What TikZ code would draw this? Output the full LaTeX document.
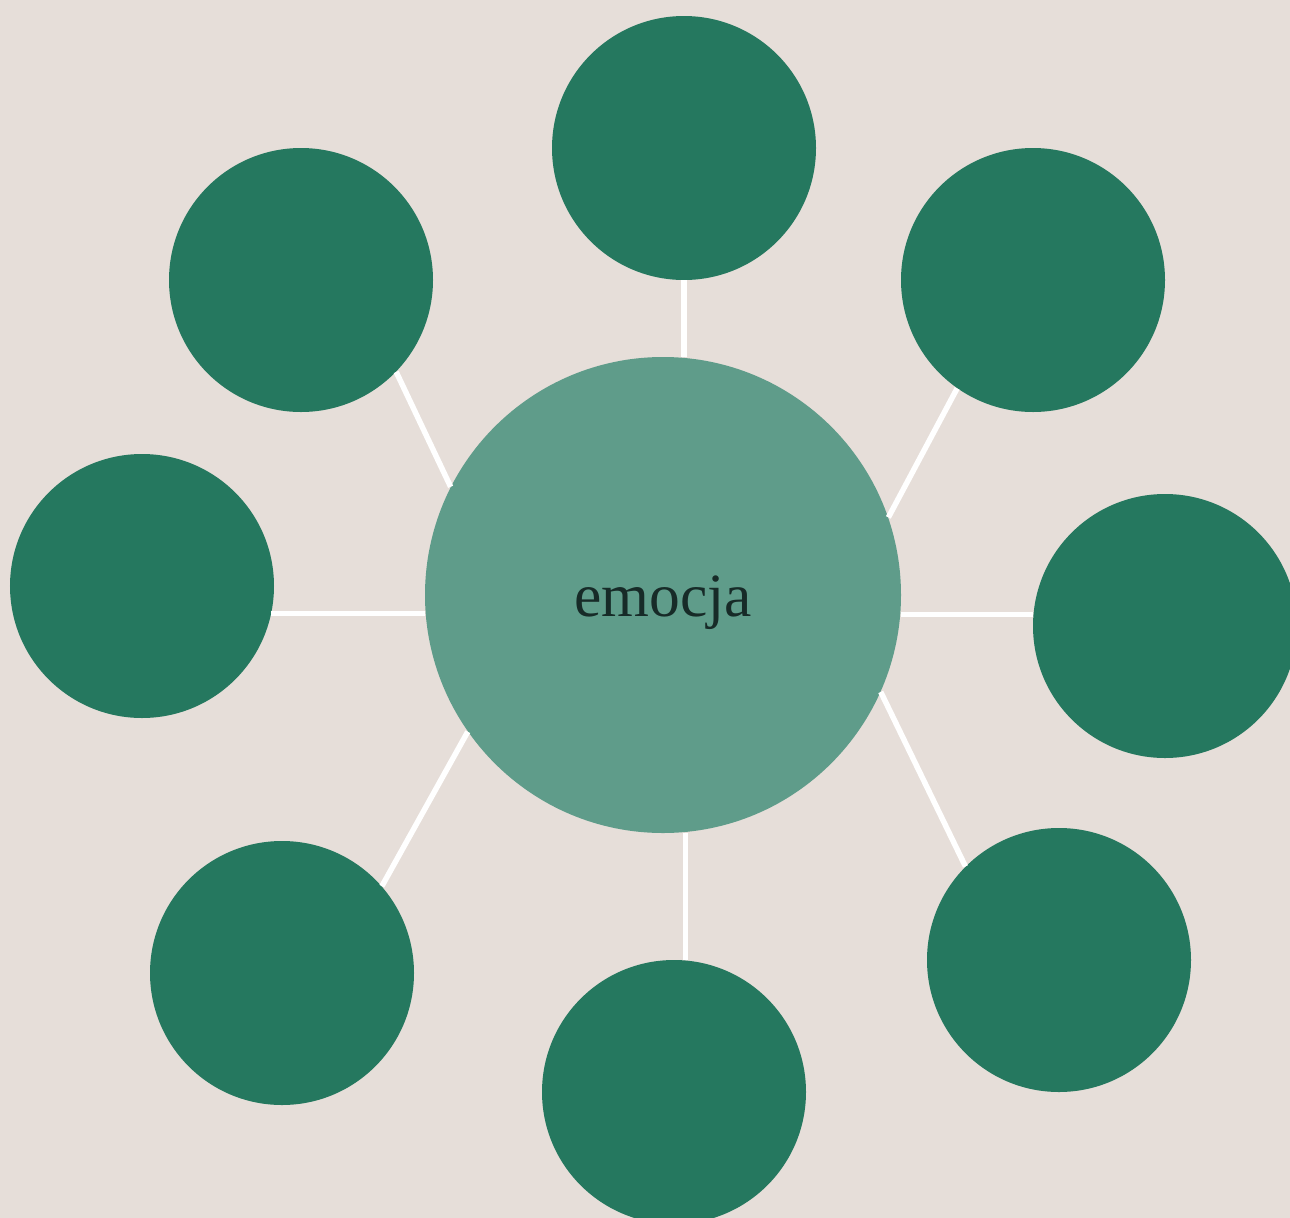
\documentclass[tikz,border=0pt]{standalone}
\usepackage{fontspec}
\setmainfont{Liberation Serif}
\usepackage{xcolor}
\usetikzlibrary{positioning}
\definecolor{bgsand}{RGB}{230,222,217}
\definecolor{hubgreen}{RGB}{95,156,138}
\definecolor{leafgreen}{RGB}{37,120,95}
\definecolor{inkdark}{RGB}{23,43,40}

\begin{document}
\begin{tikzpicture}[
  leaf/.style={circle,fill=leafgreen,inner sep=0pt,minimum size=5.28cm},
  hubnode/.style={circle,fill=hubgreen,inner sep=0pt,minimum size=9.52cm,
    font=\fontsize{35}{40}\selectfont,text=inkdark},
  spoke/.style={white,line width=0.11cm}]

%% ── background ───────────────────────────────────────────────────────────────
\clip (0,0) rectangle (25.8,-24.36);
\fill[bgsand] (0,0) rectangle (25.8,-24.36);

%% ── central circle ───────────────────────────────────────────────────────────
\node[hubnode] (hub) at (13.26,-11.90) {\smash{\raisebox{-0.42cm}{emocja}}};

%% ── outer circles ────────────────────────────────────────────────────────────
\node[leaf] (top)        at (13.68,-2.96)  {};
\node[leaf] (upperright) at (20.66,-5.60)  {};
\node[leaf] (right)      at (23.30,-12.52) {};
\node[leaf] (lowerright) at (21.18,-19.20) {};
\node[leaf] (bottom)     at (13.48,-21.84) {};
\node[leaf] (lowerleft)  at (5.64,-19.46)  {};
\node[leaf] (left)       at (2.84,-11.72)  {};
\node[leaf] (upperleft)  at (6.02,-5.60)   {};

%% ── spokes ───────────────────────────────────────────────────────────────────
\draw[spoke] (top.south)     -- (top.south |- hub.north);
\draw[spoke] (hub.19)        -- (upperright.235);
\draw[spoke] (right.175)     -- (right.175 -| hub.east);
\draw[spoke] (hub.-24.3)     -- (lowerright.135);
\draw[spoke] (bottom.85.6)   -- (bottom.85.6 |- hub.south);
\draw[spoke] (hub.215)       -- (lowerleft.41);
\draw[spoke] (left.-12)      -- (left.-12 -| hub.west);
\draw[spoke] (hub.153)       -- (upperleft.-44.7);

\end{tikzpicture}
\end{document}
